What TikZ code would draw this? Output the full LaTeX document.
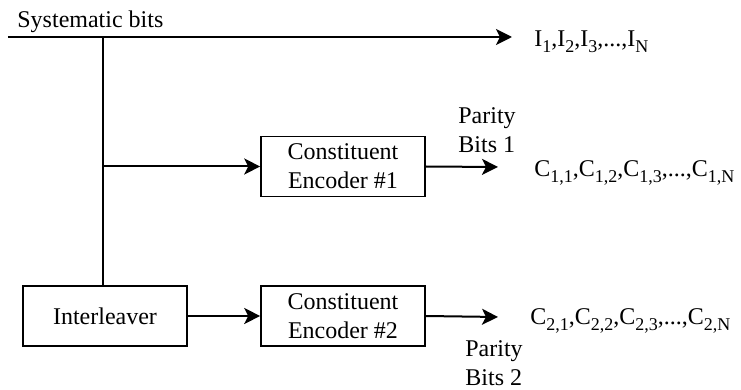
\documentclass[tikz,border=0pt]{standalone}
\usepackage{fontspec}
\setmainfont{Liberation Serif}
\usetikzlibrary{arrows.meta}
\usetikzlibrary{positioning}

\newcommand{\lowidx}[1]{\raisebox{-2.6pt}{\fontsize{9pt}{9pt}\selectfont #1}}

\tikzset{
  blk/.style={rectangle, draw, line width=0.8pt, minimum width=82pt, minimum height=30pt, align=center},
  lbl/.style={inner sep=0pt, anchor=base west},
  par/.style={inner sep=0pt, anchor=north west, align=left},
  flow/.style={line width=1pt, -{Stealth[length=8pt,width=8pt,inset=2pt]}}
}

\begin{document}
\begin{tikzpicture}[x=0.5pt, y=-0.5pt, font=\fontsize{12pt}{14.5pt}\selectfont]
				\useasboundingbox (0,0) rectangle (741,390);

				\node[blk] (il) at (105,316) {Interleaver};
				\node[blk] (enc1) at (343,166.5) {Constituent\\Encoder \#1};
				\node[blk] (enc2) at (343,316) {Constituent\\Encoder \#2};

				\node[lbl] (sys) at (17,28) {Systematic bits};
				\node[lbl] (isys) at (534,47) {I\lowidx{1},I\lowidx{2},I\lowidx{3},...,I\lowidx{N}};
				\node[lbl] (c1) at (534,177) {C\lowidx{1,1},C\lowidx{1,2},C\lowidx{1,3},...,C\lowidx{1,N}};
				\node[lbl] (c2) at (530,325) {C\lowidx{2,1},C\lowidx{2,2},C\lowidx{2,3},...,C\lowidx{2,N}};
				\node[par] (par1) at (458,107) {Parity\\Bits 1};
				\node[par] (par2) at (465,340) {Parity\\Bits 2};

				\coordinate (in) at (8,37);
				\coordinate (split) at (103,37);
				\coordinate (out0) at (512,37);
				\coordinate (out1) at (498,167);
				\coordinate (out2) at (498,317);

				\draw[flow] (in) -- (out0);
				\draw[line width=1pt] (split) -- (split |- il.north);
				\draw[flow] (split |- enc1) -- (enc1.west);
				\draw[flow] (il) -- (enc2);
				\draw[flow] (enc1.east) -- (out1);
				\draw[flow] (enc2.east) -- (out2);
			\end{tikzpicture}
\end{document}
